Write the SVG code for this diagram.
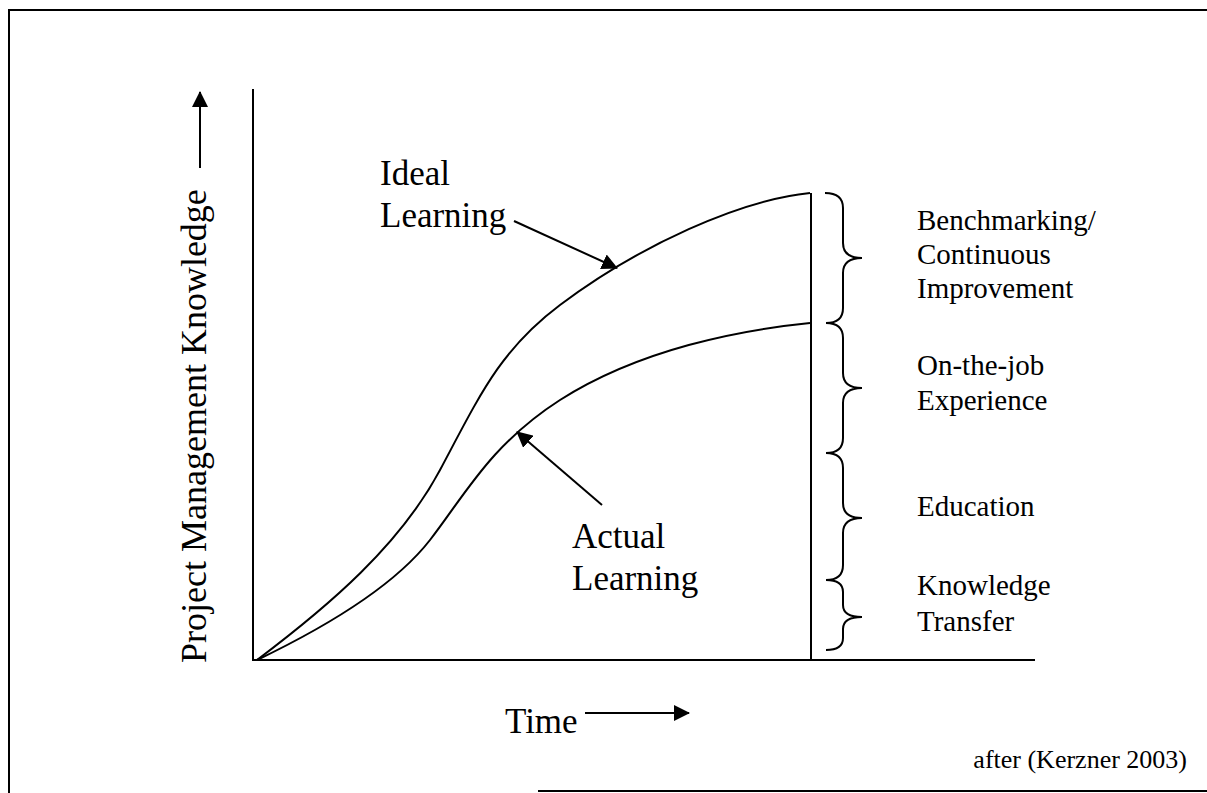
<svg xmlns="http://www.w3.org/2000/svg" width="1207" height="793" viewBox="0 0 1207 793">
<style>
.ln{fill:none;stroke:#000;stroke-width:2}
.t{font-family:"Liberation Serif","Times New Roman",serif;fill:#000}
</style>
<defs>
<marker id="ah" viewBox="0 0 16 16" refX="15" refY="8" markerWidth="16" markerHeight="16" markerUnits="userSpaceOnUse" orient="auto">
<path d="M0,0 L16,8 L0,16 z" fill="#000"/>
</marker>
</defs>
<rect x="0" y="0" width="1207" height="793" fill="#fff"/>
<g id="frame" class="ln">
<path d="M1207,10 L9,10 L9,793"/>
<path d="M538,791 L1207,791"/>
</g>
<g id="axes" class="ln">
<path d="M253,89 L253,660 L1035,660"/>
<path d="M811,193 L811,660"/>
</g>
<g id="curves" class="ln">
<path id="ideal-curve" d="M257,660 C330,605 400,545 440,470 C480,395 500,350 560,305 C640,245 740,200 810,193"/>
<path id="actual-curve" d="M257,660 C330,625 395,585 430,540 C465,495 490,445 560,400 C640,349 740,330 810,323"/>
</g>
<g id="connectors" class="ln">
<path d="M200,168 L200,92" marker-end="url(#ah)"/>
<path d="M585,713 L689,713" marker-end="url(#ah)"/>
<path d="M514,221 L617,268" marker-end="url(#ah)"/>
<path d="M602,505 L517,432" marker-end="url(#ah)"/>
</g>
<g id="y-label">
<text class="t" font-size="36" transform="translate(206,663) rotate(-90)">Project Management Knowledge</text>
</g>
<g id="x-label">
<text class="t" font-size="35" x="505" y="733">Time</text>
</g>
<g id="ideal-label">
<text class="t" font-size="35" x="380" y="185">Ideal</text>
<text class="t" font-size="35" x="380" y="227">Learning</text>
</g>
<g id="actual-label">
<text class="t" font-size="35" x="572" y="548">Actual</text>
<text class="t" font-size="35" x="572" y="590">Learning</text>
</g>
<g id="braces" class="ln">
<path d="M825,193 Q843,193 843,208 L843,243 Q843,258 862,258 Q843,258 843,273 L843,308 Q843,323 826,323"/>
<path d="M826,323 Q843,323 843,338 L843,373 Q843,388 862,388 Q843,388 843,403 L843,438 Q843,453 826,453"/>
<path d="M826,453 Q843,453 843,468 L843,503 Q843,518 862,518 Q843,518 843,533 L843,565 Q843,580 826,580"/>
<path d="M826,580 Q843,580 843,592 L843,605 Q843,617 862,617 Q843,617 843,629 L843,638 Q843,650 826,650"/>
</g>
<g id="stage-benchmarking">
<text class="t" font-size="29" x="917" y="230">Benchmarking/</text>
<text class="t" font-size="29" x="917" y="264">Continuous</text>
<text class="t" font-size="29" x="917" y="298">Improvement</text>
</g>
<g id="stage-onthejob">
<text class="t" font-size="29" x="917" y="375">On-the-job</text>
<text class="t" font-size="29" x="917" y="410">Experience</text>
</g>
<g id="stage-education">
<text class="t" font-size="29" x="917" y="516">Education</text>
</g>
<g id="stage-transfer">
<text class="t" font-size="29" x="917" y="595">Knowledge</text>
<text class="t" font-size="29" x="917" y="631">Transfer</text>
</g>
<g id="source">
<text class="t" font-size="26" x="1187" y="768" text-anchor="end">after (Kerzner 2003)</text>
</g>
</svg>
